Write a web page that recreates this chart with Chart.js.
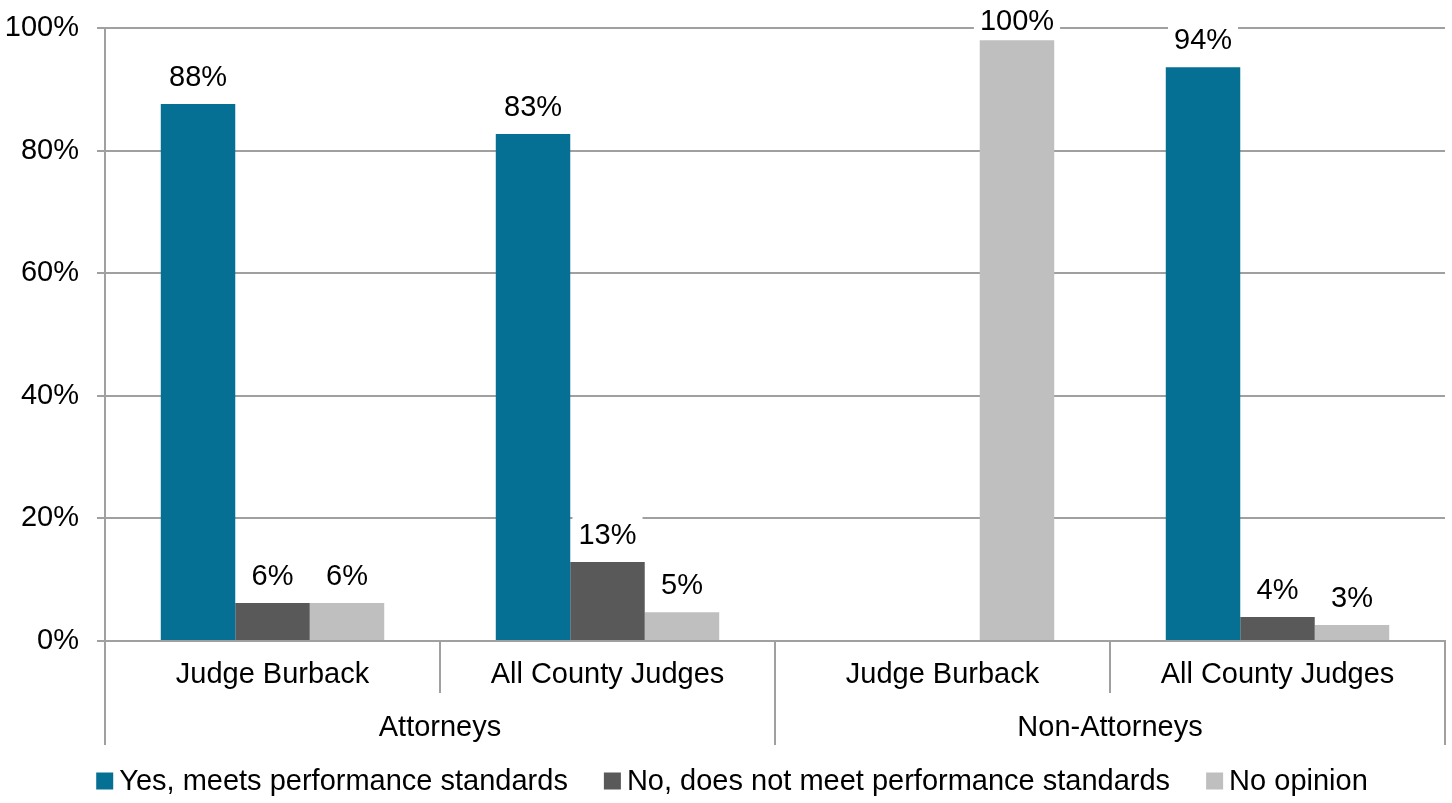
<!DOCTYPE html>
<html>
<head>
<meta charset="utf-8">
<script src="https://cdn.jsdelivr.net/npm/chart.js@4/dist/chart.umd.min.js"></script>
<style>
  html, body { margin: 0; padding: 0; background: #fff; }
  #wrap { width: 1452px; height: 803px; }
</style>
</head>
<body>
<div id="wrap"><canvas id="chart"></canvas></div>
<script>
// chart data
const categories = ['Judge Burback', 'All County Judges', 'Judge Burback', 'All County Judges'];
const groups = ['Attorneys', 'Non-Attorneys'];
const seriesNames = ['Yes, meets performance standards', 'No, does not meet performance standards', 'No opinion'];
const yesValues = [87.6, 82.7, 0, 93.6];
const noValues = [6.2, 12.9, 0, 3.9];
const noOpinionValues = [6.2, 4.7, 98.0, 2.6];
const yesLabels = ['88%', '83%', '', '94%'];
const noLabels = ['6%', '13%', '', '4%'];
const noOpinionLabels = ['6%', '5%', '100%', '3%'];
const yTicks = [0, 20, 40, 60, 80, 100];

const FONT = '"Liberation Sans", Arial, sans-serif';
const SIZE = 29;
const GRID = '#a0a0a0';

Chart.defaults.font.family = FONT;
Chart.defaults.font.size = SIZE;
Chart.defaults.color = '#000';

const valueLabels = {
  id: 'valueLabels',
  afterDatasetsDraw(chart) {
    const ctx = chart.ctx;
    ctx.save();
    ctx.font = SIZE + 'px ' + FONT;
    ctx.textAlign = 'center';
    ctx.textBaseline = 'middle';
    chart.data.datasets.forEach((ds, di) => {
      const meta = chart.getDatasetMeta(di);
      meta.data.forEach((bar, i) => {
        const txt = ds.valueText[i];
        if (!txt) return;
        const y = Math.max(bar.y - 27, 21);
        const w = ctx.measureText(txt).width + 12;
        ctx.fillStyle = '#fff';
        ctx.fillRect(bar.x - w / 2, y - 18, w, 36);
        ctx.fillStyle = '#000';
        ctx.fillText(txt, bar.x, y + 1);
      });
    });
    ctx.restore();
  }
};

const groupAxis = {
  id: 'groupAxis',
  afterDraw(chart) {
    const ctx = chart.ctx;
    const x = chart.scales.x;
    const base = chart.chartArea.bottom;
    const step = (x.right - x.left) / categories.length;
    ctx.save();
    ctx.strokeStyle = GRID;
    ctx.lineWidth = 2;
    for (let i = 0; i <= categories.length; i++) {
      const px = x.left + step * i;
      const long = i % 2 === 0;
      ctx.beginPath();
      ctx.moveTo(px, base);
      ctx.lineTo(px, long ? 745 : 693);
      ctx.stroke();
    }
    ctx.font = SIZE + 'px ' + FONT;
    ctx.fillStyle = '#000';
    ctx.textAlign = 'center';
    ctx.textBaseline = 'middle';
    groups.forEach((g, gi) => {
      const cx = (x.getPixelForValue(gi * 2) + x.getPixelForValue(gi * 2 + 1)) / 2;
      ctx.fillText(g, cx, 728);
    });
    ctx.restore();
  }
};

// legend drawn by hand so box/text gaps match the original
const bottomLegend = {
  id: 'bottomLegend',
  afterDraw(chart) {
    const ctx = chart.ctx;
    const box = 17, gap = 6, itemGap = 36, y = 781;
    ctx.save();
    ctx.font = SIZE + 'px ' + FONT;
    ctx.textBaseline = 'middle';
    ctx.textAlign = 'left';
    const items = chart.data.datasets.map(ds => ({
      text: ds.label, color: ds.backgroundColor, w: ctx.measureText(ds.label).width
    }));
    const total = items.reduce((s, it) => s + box + gap + it.w, 0) + itemGap * (items.length - 1);
    let x = (chart.width - total) / 2 + 6;
    items.forEach(it => {
      ctx.fillStyle = it.color;
      ctx.fillRect(x, y - box / 2, box, box);
      ctx.fillStyle = '#000';
      ctx.fillText(it.text, x + box + gap, y + 1);
      x += box + gap + it.w + itemGap;
    });
    ctx.restore();
  }
};

new Chart(document.getElementById('chart'), {
  type: 'bar',
  data: {
    labels: categories,
    datasets: [
      { label: seriesNames[0], data: yesValues, valueText: yesLabels, backgroundColor: '#066f94' },
      { label: seriesNames[1], data: noValues, valueText: noLabels, backgroundColor: '#595959' },
      { label: seriesNames[2], data: noOpinionValues, valueText: noOpinionLabels, backgroundColor: '#bfbfbf' }
    ]
  },
  options: {
    responsive: true,
    maintainAspectRatio: false,
    animation: false,
    categoryPercentage: 0.667,
    barPercentage: 1,
    layout: { padding: { top: 28, right: 7, bottom: 58, left: 0 } },
    scales: {
      x: {
        grid: { display: false },
        border: { display: true, color: GRID, width: 2 },
        ticks: { padding: 9, maxRotation: 0, autoSkip: false },
        afterFit(scale) { scale.height = 104; }
      },
      y: {
        min: 0,
        max: 100,
        afterBuildTicks(scale) { scale.ticks = yTicks.map(v => ({ value: v })); },
        afterFit(scale) { scale.width = 105; scale.paddingTop = 0; scale.paddingBottom = 0; },
        grid: { color: GRID, lineWidth: 2, tickLength: 8 },
        border: { display: true, color: GRID, width: 2 },
        ticks: { padding: 18, callback: v => v + '%' }
      }
    },
    plugins: {
      tooltip: { enabled: false },
      legend: { display: false }
    }
  },
  plugins: [valueLabels, groupAxis, bottomLegend]
});
</script>
</body>
</html>
